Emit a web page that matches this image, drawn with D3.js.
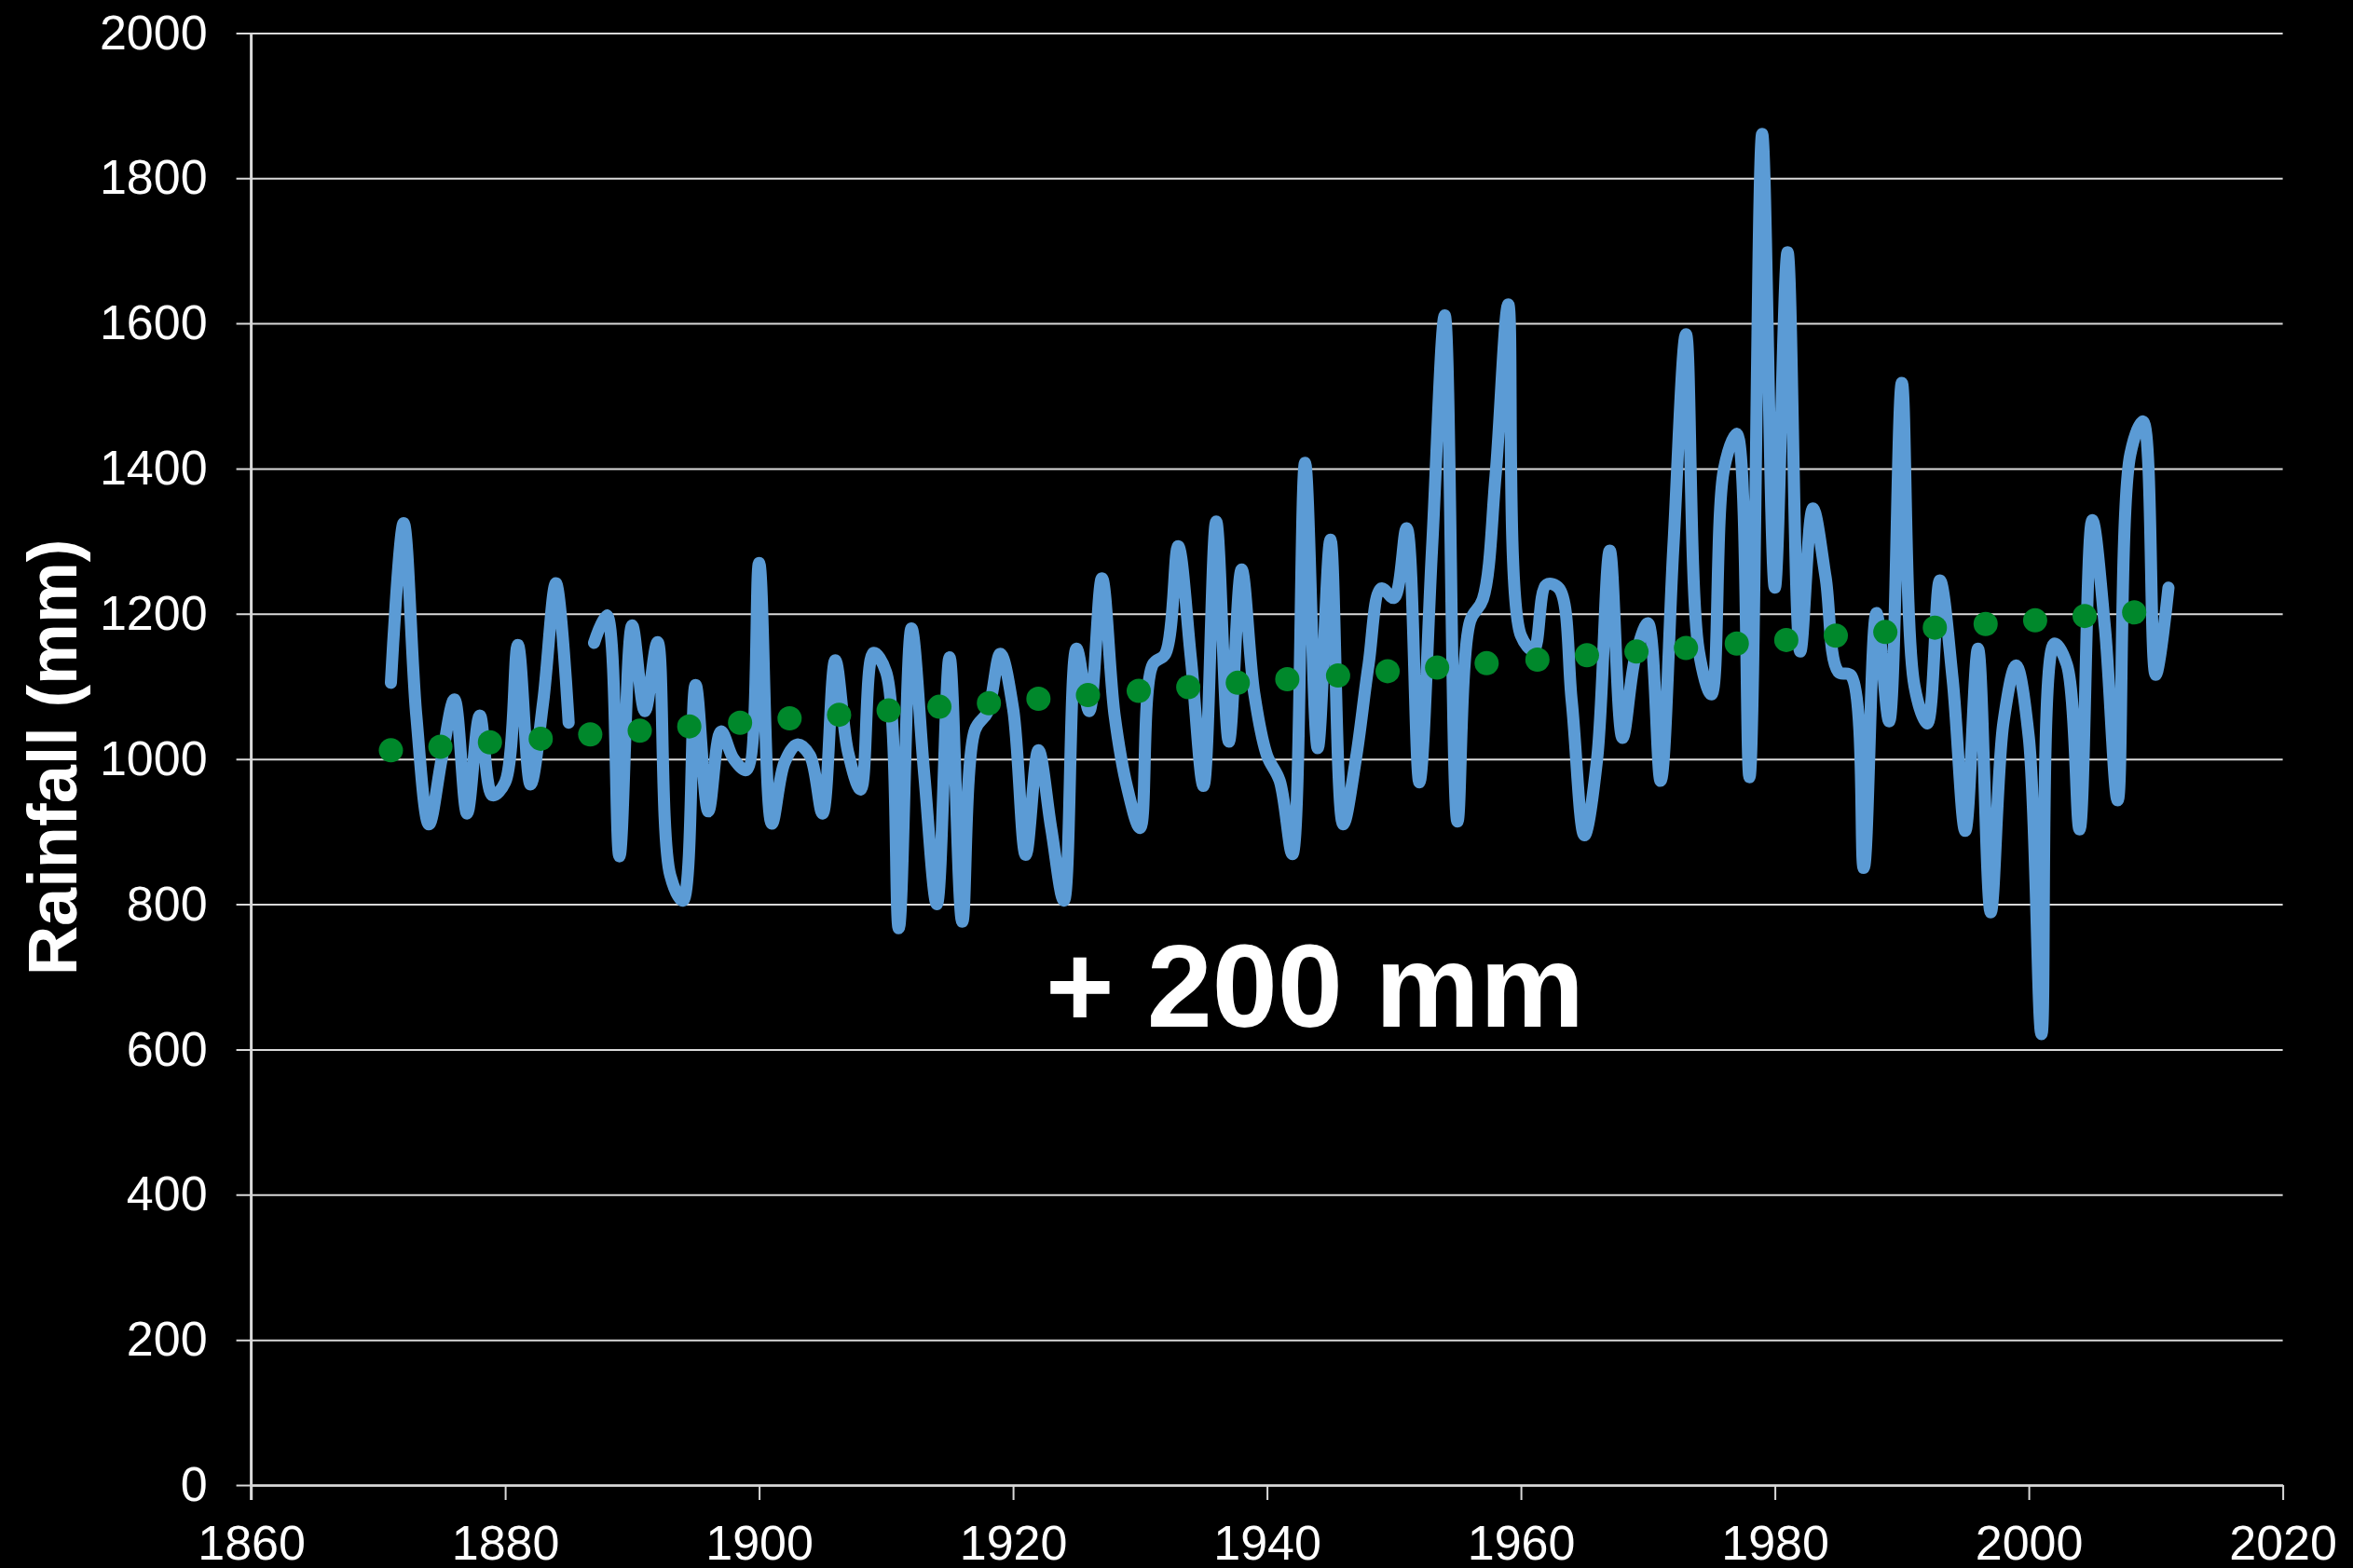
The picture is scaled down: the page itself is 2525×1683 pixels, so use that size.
<!DOCTYPE html>
<html>
<head>
<meta charset="utf-8">
<script src="https://cdn.jsdelivr.net/npm/d3@7"></script>
<style>
html,body{margin:0;padding:0;background:#000;}
svg{display:block;}
</style>
</head>
<body>
<svg id="chart" width="2525" height="1683"></svg>
<script>
// ---- data ----
const years = [
 1871,1872,1873,1874,1875,1876,1877,1878,1879,1880,1881,1882,1883,1884,1885,1886,1887,1888,1889,1890,
 1891,1892,1893,1894,1895,1896,1897,1898,1899,1900,1901,1902,1903,1904,1905,1906,1907,1908,1909,1910,
 1911,1912,1913,1914,1915,1916,1917,1918,1919,1920,1921,1922,1923,1924,1925,1926,1927,1928,1929,1930,
 1931,1932,1933,1934,1935,1936,1937,1938,1939,1940,1941,1942,1943,1944,1945,1946,1947,1948,1949,1950,
 1951,1952,1953,1954,1955,1956,1957,1958,1959,1960,1961,1962,1963,1964,1965,1966,1967,1968,1969,1970,
 1971,1972,1973,1974,1975,1976,1977,1978,1979,1980,1981,1982,1983,1984,1985,1986,1987,1988,1989,1990,
 1991,1992,1993,1994,1995,1996,1997,1998,1999,2000,2001,2002,2003,2004,2005,2006,2007,2008,2009,2010,
 2011];
const rainfall = [
 1105,1325,1060,910,1000,1082,925,1060,950,968,1157,965,1080,1242,1050,null,1160,1198,866,1184,
 1066,1161,840,805,1102,928,1038,1000,985,1270,911,995,1020,1005,925,1136,1010,958,1146,1120,
 767,1180,980,800,1140,776,1040,1065,1145,1070,868,1012,905,805,1152,1066,1249,1060,960,905,
 1130,1145,1293,1140,963,1327,1024,1261,1090,1005,970,869,1408,1015,1302,910,1000,1130,1235,1222,
 1318,968,1290,1611,914,1190,1220,1390,1626,1170,1150,1240,1235,1080,895,1000,1287,1029,1140,1187,
 970,1290,1585,1150,1089,1400,1448,975,1861,1236,1698,1148,1345,1250,1120,1115,850,1201,1052,1518,
 1100,1049,1246,1110,901,1152,789,1050,1129,1030,621,1159,1130,903,1329,1180,943,1420,1465,1116,
 1236];
const trendYears = [1871.0,1874.9,1878.8,1882.8,1886.7,1890.6,1894.5,1898.5,1902.4,1906.3,1910.2,1914.2,
 1918.1,1922.0,1925.9,1929.9,1933.8,1937.7,1941.6,1945.6,1949.5,1953.4,1957.3,1961.3,1965.2,1969.1,
 1973.0,1977.0,1980.9,1984.8,1988.7,1992.6,1996.6,2000.5,2004.4,2008.3];
const trendValues = [1012,1017,1023,1028,1034,1039,1045,1050,1056,1061,1067,1072,1077,1083,1088,1094,
 1099,1105,1110,1115,1121,1126,1132,1137,1143,1148,1153,1159,1164,1170,1175,1181,1186,1191,1197,1202];
const xTicks = [1860,1880,1900,1920,1940,1960,1980,2000,2020];
const yTicks = [0,200,400,600,800,1000,1200,1400,1600,1800,2000];
const yTitle = "Rainfall (mm)";
const annotation = "+ 200 mm";

// ---- layout ----
const svg = d3.select("#chart");
svg.append("rect").attr("width",2525).attr("height",1683).attr("fill","#000");
const X0 = 269.6, X1 = 2449.6, Y0 = 1594, Y1 = 35.4;
const x = d3.scaleLinear().domain([1860,2020]).range([X0,X1]);
const y = d3.scaleLinear().domain([0,2000]).range([Y0,Y1]);
const font = "'Liberation Sans', Arial, Helvetica, sans-serif";

// y axis with gridlines
const gy = svg.append("g").attr("transform",`translate(${X0},0)`)
  .call(d3.axisLeft(y).tickValues(yTicks).tickFormat(d3.format("d"))
    .tickSizeInner(-(X1-X0)).tickSizeOuter(0).tickPadding(47));
gy.select(".domain").remove();
gy.selectAll(".tick line").attr("x1",-16).attr("stroke","#d9d9d9").attr("stroke-width",2);
gy.selectAll(".tick text").attr("fill","#fff").style("font-family",font).style("font-size","52px");

// x axis
const gx = svg.append("g").attr("transform",`translate(0,${Y0})`)
  .call(d3.axisBottom(x).tickValues(xTicks).tickFormat(d3.format("d"))
    .tickSizeInner(16).tickSizeOuter(0).tickPadding(27));
gx.select(".domain").attr("stroke","#d9d9d9").attr("stroke-width",2.5);
gx.selectAll(".tick line").attr("stroke","#d9d9d9").attr("stroke-width",2);
gx.selectAll(".tick text").attr("fill","#fff").style("font-family",font).style("font-size","52px");

// vertical axis line
svg.append("line").attr("x1",X0).attr("x2",X0).attr("y1",Y1).attr("y2",Y0+16)
  .attr("stroke","#d9d9d9").attr("stroke-width",3);

// rainfall line
const data = years.map((yr,i)=>({yr, v: rainfall[i]}));
const line = d3.line()
  .defined(d=>d.v!==null)
  .x(d=>x(d.yr)).y(d=>y(d.v))
  .curve(d3.curveCatmullRom.alpha(0.5));
svg.append("path").datum(data).attr("d",line)
  .attr("fill","none").attr("stroke","#5b9bd5").attr("stroke-width",13)
  .attr("stroke-linejoin","round").attr("stroke-linecap","round");

// trend dots
svg.append("g").selectAll("circle").data(trendYears.map((t,i)=>({t,v:trendValues[i]})))
  .join("circle").attr("cx",d=>x(d.t)).attr("cy",d=>y(d.v)).attr("r",13).attr("fill","#00882b");

// y title
svg.append("text").attr("transform","translate(82,813) rotate(-90)")
  .attr("text-anchor","middle").attr("fill","#fff")
  .style("font-family",font).style("font-size","74px").style("font-weight","bold")
  .text(yTitle);

// annotation
svg.append("text").attr("x",1411).attr("y",1102).attr("text-anchor","middle").attr("fill","#fff")
  .style("font-family",font).style("font-size","126px").style("font-weight","bold")
  .text(annotation);
</script>
</body>
</html>
